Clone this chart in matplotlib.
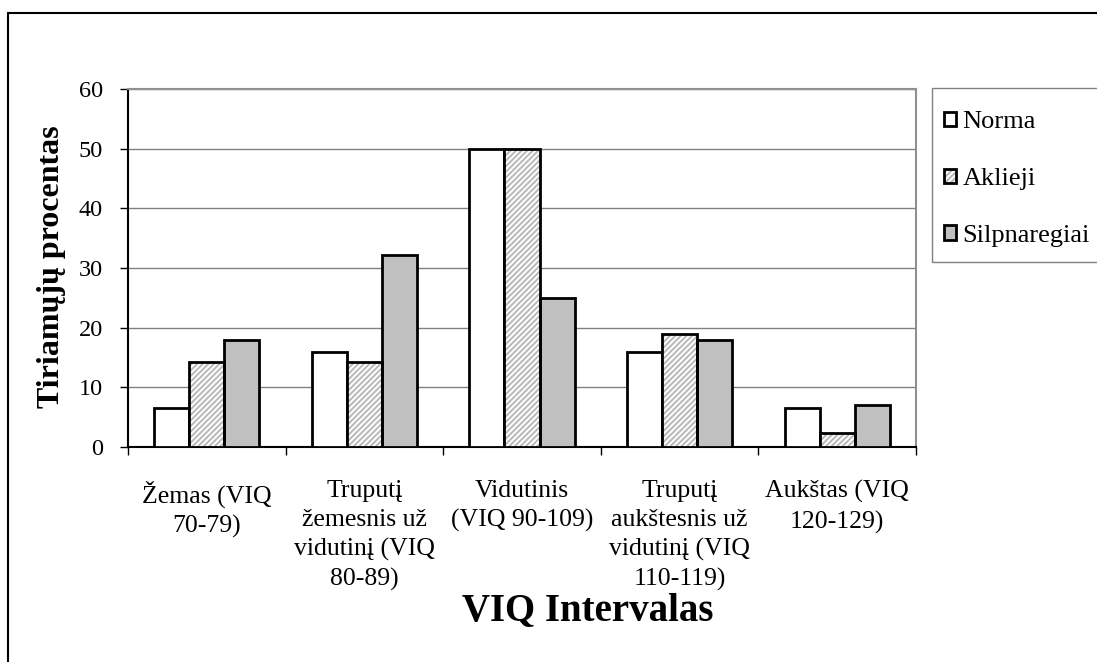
import matplotlib
matplotlib.use("Agg")
import matplotlib.pyplot as plt
import numpy as np
from matplotlib.patches import Rectangle, Patch

plt.rcParams['font.family'] = ['Liberation Serif', 'DejaVu Serif']
plt.rcParams['hatch.linewidth'] = 1.4

# duomenys (nuskaityta nuo paveikslo)
categories = [
    "Žemas (VIQ\n70-79)",
    "Truputį\nžemesnis už\nvidutinį (VIQ\n80-89)",
    "Vidutinis\n(VIQ 90-109)",
    "Truputį\naukštesnis už\nvidutinį (VIQ\n110-119)",
    "Aukštas (VIQ\n120-129)",
]
series_names = ["Norma", "Aklieji", "Silpnaregiai"]
norma = [6.6, 16.0, 50.0, 16.0, 6.6]
aklieji = [14.3, 14.3, 50.0, 19.0, 2.4]
silpnaregiai = [17.9, 32.1, 25.0, 17.9, 7.1]
y_ticks = [0, 10, 20, 30, 40, 50, 60]

W, H = 1097, 662
fig = plt.figure(figsize=(W / 100, H / 100), dpi=100)
ax = fig.add_axes([128 / W, (H - 447) / H, (916 - 128) / W, (447 - 89) / H])

x = np.arange(len(categories)) + 0.5
bw = 1 / 4.5
offs = [-bw, 0, bw]

# Norma - balti
ax.bar(x + offs[0], norma, bw, color="white", edgecolor="black", linewidth=2, zorder=3)
# Aklieji - pilkas brūkšniavimas, juodas kontūras atskirai
ax.bar(x + offs[1], aklieji, bw, color="white", edgecolor="#b8b8b8", hatch="//////",
       linewidth=0, zorder=3)
ax.bar(x + offs[1], aklieji, bw, fill=False, edgecolor="black", linewidth=2, zorder=4)
# Silpnaregiai - pilki
ax.bar(x + offs[2], silpnaregiai, bw, color="#c0c0c0", edgecolor="black", linewidth=2, zorder=3)

ax.set_xlim(0, len(categories))
ax.set_ylim(0, 60)
ax.set_yticks(y_ticks)
ax.set_xticks(np.arange(len(categories) + 1))
ax.set_xticklabels([])
ax.set_xticks(x, minor=True)
ax.set_xticklabels(categories, minor=True, fontsize=18.5, linespacing=1.4)
ax.tick_params(axis="x", which="minor", length=0, pad=24)
ax.tick_params(axis="x", which="major", length=6, width=1, direction="out")
ax.tick_params(axis="y", length=6, width=1, pad=12, labelsize=17.5)

ax.yaxis.grid(True, color="#808080", linewidth=1)
ax.set_axisbelow(True)
for s in ["left", "bottom"]:
    ax.spines[s].set_color("black")
    ax.spines[s].set_linewidth(1.5)
for s in ["top", "right"]:
    ax.spines[s].set_color("#909090")
    ax.spines[s].set_linewidth(1.5)

fig.text(51 / W, 1 - 267 / H, "Tiriamųjų procentas", rotation=90, fontsize=23,
         fontweight="bold", ha="center", va="center")
fig.text(588 / W, 1 - 620 / H, "VIQ Intervalas", fontsize=28, fontweight="bold",
         ha="center", va="baseline")

# išorinis rėmelis ir legendos rėmelis
fig.patches.append(Rectangle((8 / W, -0.1), 1.2, 1 - 13 / H + 0.1, transform=fig.transFigure,
                             fill=False, edgecolor="black", linewidth=1.5, zorder=0))
fig.patches.append(Rectangle((932 / W, 1 - 262 / H), 0.2, (262 - 88) / H,
                             transform=fig.transFigure, fill=False,
                             edgecolor="#808080", linewidth=1))

h_norma = Patch(facecolor="white", edgecolor="black", linewidth=2)
h_akl = (Patch(facecolor="white", edgecolor="#b8b8b8", hatch="//////", linewidth=0),
         Patch(fill=False, edgecolor="black", linewidth=2))
h_silp = Patch(facecolor="#c0c0c0", edgecolor="black", linewidth=2)
fig.legend([h_norma, h_akl, h_silp], series_names, loc="center left",
           bbox_to_anchor=(944 / W, 1 - 179 / H), frameon=False, fontsize=19,
           handlelength=0.45, handleheight=0.45, handletextpad=0.25,
           labelspacing=1.32, borderaxespad=0, borderpad=0)

fig.savefig("out.png", dpi=100)
